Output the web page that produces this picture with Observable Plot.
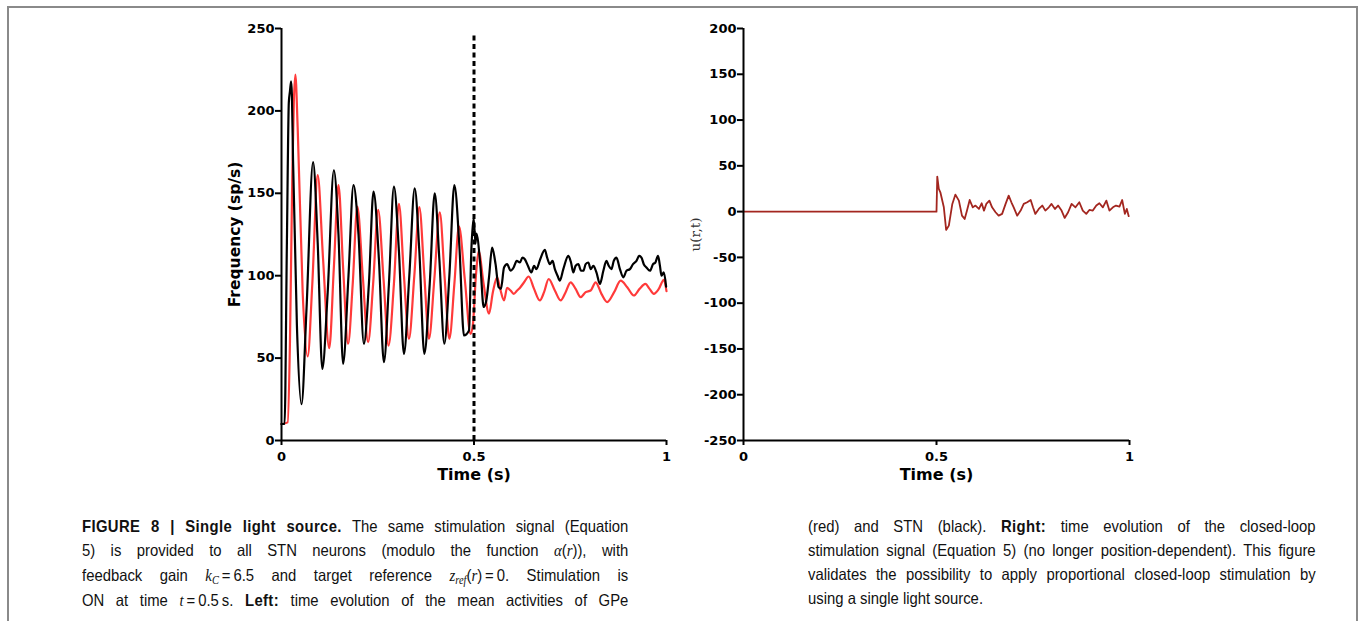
<!DOCTYPE html>
<html>
<head>
<meta charset="utf-8">
<script src="https://cdn.jsdelivr.net/npm/d3@7"></script>
<script src="https://cdn.jsdelivr.net/npm/@observablehq/plot@0.6"></script>
<style>
  html, body { margin: 0; padding: 0; background: #fff; width: 1360px; height: 621px; overflow: hidden; }
  #frame { position: absolute; left: 7px; top: 6px; width: 1347px; height: 700px; border: 2px solid #8a8a8a; border-bottom: none; }
  #left { position: absolute; left: 200px; top: 10px; }
  #right { position: absolute; left: 690px; top: 10px; }
  .cap { position: absolute; top: 514px; font-family: "Liberation Sans", "Arial", sans-serif; font-size: 16.5px; line-height: 24px; color: #111; transform: scaleX(0.9); transform-origin: 0 0; }
  .cap div { white-space: nowrap; text-align: justify; text-align-last: justify; }
  .cap div.last { text-align-last: left; }
  .cap b { font-weight: bold; letter-spacing: 0.4px; }
  .cap i { font-style: italic; font-family: "Liberation Serif", serif; }
  .cap sub { font-size: 70%; vertical-align: -3px; line-height: 0; }
</style>
</head>
<body>
<div id="frame"></div>
<div id="left"></div>
<div id="right"></div>
<div class="cap" style="left:82px; width:607px;">
  <div><b>FIGURE 8 | Single light source.</b> The same stimulation signal (Equation</div>
  <div>5) is provided to all STN neurons (modulo the function <i>α</i>(<i>r</i>)), with</div>
  <div>feedback gain <i>k<sub>C</sub></i>&thinsp;=&thinsp;6.5 and target reference <i>z<sub>ref</sub></i>(<i>r</i>)&thinsp;=&thinsp;0. Stimulation is</div>
  <div>ON at time <i>t</i>&thinsp;=&thinsp;0.5&thinsp;s. <b>Left:</b> time evolution of the mean activities of GPe</div>
</div>
<div class="cap" style="left:808px; width:564px;">
  <div>(red) and STN (black). <b>Right:</b> time evolution of the closed-loop</div>
  <div>stimulation signal (Equation 5) (no longer position-dependent). This figure</div>
  <div>validates the possibility to apply proportional closed-loop stimulation by</div>
  <div class="last">using a single light source.</div>
</div>
<script>
// ---- Data ----
const xTicks = [0, 0.5, 1];
const yTicksLeft = [0, 50, 100, 150, 200, 250];
const yTicksRight = [-250, -200, -150, -100, -50, 0, 50, 100, 150, 200];
const stimOnTime = 0.5;

// STN mean activity (black), time in s, frequency in sp/s
const stnT = [0, 0.008, 0.014, 0.019, 0.022, 0.025, 0.027, 0.03, 0.04, 0.052, 0.065, 0.082, 0.094, 0.106, 0.12, 0.136, 0.148, 0.160, 0.174, 0.187, 0.200, 0.214, 0.227, 0.239, 0.253, 0.266, 0.279, 0.292, 0.305, 0.318, 0.332, 0.346, 0.358, 0.371, 0.385, 0.398, 0.41, 0.423, 0.436, 0.449, 0.462, 0.474, 0.487, 0.493, 0.499, 0.504, 0.506, 0.517, 0.525, 0.532, 0.539, 0.547, 0.556, 0.564, 0.570, 0.578, 0.586, 0.595, 0.603, 0.611, 0.619, 0.626, 0.632, 0.640, 0.649, 0.656, 0.662, 0.672, 0.684, 0.690, 0.697, 0.704, 0.710, 0.717, 0.723, 0.732, 0.745, 0.752, 0.758, 0.764, 0.771, 0.778, 0.784, 0.790, 0.797, 0.803, 0.810, 0.818, 0.827, 0.836, 0.844, 0.850, 0.857, 0.863, 0.870, 0.879, 0.888, 0.896, 0.905, 0.913, 0.922, 0.929, 0.935, 0.941, 0.948, 0.957, 0.965, 0.971, 0.978, 0.983, 0.987, 0.993, 0.999];
const stnV = [10, 10, 120, 205, 212, 218, 210, 170, 70, 22, 80, 169, 120, 43.5, 90, 164, 125, 46.5, 100, 155, 125, 58.7, 95, 151, 110, 47.5, 95, 154, 115, 52.6, 100, 153, 115, 52.6, 95, 150, 110, 58.7, 100, 155, 118, 63.7, 66.7, 115, 135, 119.5, 125.6, 105, 81, 85, 99, 117, 107, 93, 92, 105, 107, 103, 105, 109, 108, 111, 110, 106, 102, 106, 104, 110, 115.7, 111, 107, 109, 104, 100, 97, 104, 112, 108, 102, 106, 107, 103, 103, 107, 108, 104, 106, 102, 95, 103, 109, 106, 104, 109, 111, 104, 99, 103, 104, 107, 109, 112, 111, 107, 105, 103, 107, 108, 112, 106, 100, 102, 93.4];

// GPe mean activity (red)
const gpeT = [0, 0.016, 0.022, 0.028, 0.032, 0.036, 0.042, 0.055, 0.068, 0.08, 0.094, 0.108, 0.124, 0.136, 0.148, 0.160, 0.173, 0.185, 0.197, 0.211, 0.225, 0.238, 0.251, 0.265, 0.278, 0.292, 0.305, 0.318, 0.331, 0.345, 0.358, 0.371, 0.383, 0.397, 0.411, 0.424, 0.436, 0.449, 0.461, 0.476, 0.491, 0.497, 0.505, 0.512, 0.525, 0.539, 0.549, 0.560, 0.568, 0.578, 0.586, 0.595, 0.603, 0.612, 0.619, 0.630, 0.642, 0.656, 0.671, 0.682, 0.694, 0.710, 0.725, 0.738, 0.751, 0.764, 0.777, 0.790, 0.803, 0.816, 0.831, 0.846, 0.864, 0.881, 0.898, 0.915, 0.930, 0.945, 0.956, 0.967, 0.980, 0.993, 1.0];
const gpeV = [10, 11, 60, 160, 205, 222, 190, 90, 51, 95, 161, 110, 56, 105, 155, 105, 58.7, 95, 142, 100, 59.7, 95, 140, 98, 57.6, 95, 143.6, 100, 61.7, 100, 141.6, 100, 61.7, 98, 138.5, 98, 61.7, 95, 130, 98, 64.7, 70, 100, 115, 95, 77, 90, 99, 92, 85, 92.6, 91, 89, 91, 92.6, 96, 99.5, 92, 85, 90, 98, 91, 85, 90, 96, 92, 87, 90, 91, 96, 89, 84, 90, 97, 93, 88, 92, 95, 92, 89, 92, 97.5, 90.6];

// Closed-loop stimulation signal u(r,t)
const uT = [0, 0.5, 0.502, 0.506, 0.510, 0.519, 0.525, 0.532, 0.541, 0.549, 0.558, 0.566, 0.573, 0.579, 0.586, 0.594, 0.601, 0.610, 0.617, 0.623, 0.629, 0.637, 0.644, 0.653, 0.661, 0.670, 0.679, 0.687, 0.694, 0.700, 0.709, 0.718, 0.726, 0.735, 0.744, 0.750, 0.756, 0.765, 0.774, 0.782, 0.791, 0.798, 0.807, 0.815, 0.824, 0.832, 0.841, 0.850, 0.860, 0.870, 0.879, 0.888, 0.896, 0.905, 0.914, 0.922, 0.931, 0.940, 0.948, 0.957, 0.965, 0.974, 0.981, 0.988, 0.993, 0.998];
const uV = [0, 0, 38.2, 24.8, 21.1, 4.7, -20, -15.3, 8.4, 18.6, 12, -4.4, -8, 1.1, 12.7, 4.7, 6.6, 2.9, 9.1, 1.1, 8.4, 12, 4.7, -0.7, -4.4, -2.5, 8.4, 17.5, 10.2, 4.7, -4.4, 1.1, 8.4, 10.2, 12.7, 4.7, -2.5, 2.9, 6.6, 1.1, 4.7, 8.4, 2.9, 6.6, 1.1, -6.9, -0.7, 8.4, 4.7, 10.2, 1.1, -2.5, 1.8, 1.1, 6.6, 9.1, 4.7, 12, 1.1, 4.7, 6.6, 5.5, 12.7, -2.5, 2.9, -5];

// ---- Build tables ----
const stn = stnT.map((t, i) => ({t, v: stnV[i]}));
const gpe = gpeT.map((t, i) => ({t, v: gpeV[i]}));
const u = uT.map((t, i) => ({t, v: uV[i]}));

const fmt = d => String(d);
const baseStyle = {fontFamily: "DejaVu Sans", fontWeight: "bold", fontSize: "13px", color: "black", background: "white", overflow: "visible"};

const leftPlot = Plot.plot({
  width: 480, height: 480,
  marginLeft: 81, marginRight: 14, marginTop: 18, marginBottom: 50,
  x: {domain: [0, 1]},
  y: {domain: [0, 250]},
  style: baseStyle,
  marks: [
    Plot.axisX({ticks: xTicks, tickFormat: fmt, tickSize: 5, tickPadding: 6.5, strokeWidth: 2, label: null}),
    Plot.axisY({ticks: yTicksLeft, tickFormat: fmt, tickSize: 6, tickPadding: 1, strokeWidth: 2, label: null}),
    Plot.line(gpe, {x: "t", y: "v", stroke: "#ff3a3a", strokeWidth: 2.2, curve: "monotone-x"}),
    Plot.line(stn, {x: "t", y: "v", stroke: "#000", strokeWidth: 2.2, curve: "monotone-x"}),
    Plot.ruleX([stimOnTime], {y1: 0, y2: 247, stroke: "#000", strokeWidth: 3, strokeDasharray: "5,3.5"}),
    Plot.ruleX([0], {stroke: "#000", strokeWidth: 2}),
    Plot.ruleY([0], {stroke: "#000", strokeWidth: 2}),
    Plot.text(["Frequency (sp/s)"], {frameAnchor: "left", textAnchor: "middle", lineAnchor: "middle", dx: -46, rotate: -90, fontSize: 15.5, fontWeight: "bold"}),
    Plot.text(["Time (s)"], {frameAnchor: "bottom", lineAnchor: "middle", dy: 34, fontSize: 16, fontWeight: "bold"})
  ]
});
document.getElementById("left").appendChild(leftPlot);

const rightPlot = Plot.plot({
  width: 460, height: 480,
  marginLeft: 53, marginRight: 21, marginTop: 18, marginBottom: 50,
  x: {domain: [0, 1]},
  y: {domain: [-250, 200]},
  style: baseStyle,
  marks: [
    Plot.axisX({ticks: xTicks, tickFormat: fmt, tickSize: 5, tickPadding: 6.5, strokeWidth: 2, label: null}),
    Plot.axisY({ticks: yTicksRight, tickFormat: fmt, tickSize: 6, tickPadding: 1, strokeWidth: 2, label: null}),
    Plot.line(u, {x: "t", y: "v", stroke: "#a3261f", strokeWidth: 1.8}),
    Plot.ruleX([0], {stroke: "#000", strokeWidth: 2}),
    Plot.ruleY([-250], {stroke: "#000", strokeWidth: 2}),
    Plot.text(["u(r,t)"], {frameAnchor: "left", textAnchor: "middle", lineAnchor: "middle", dx: -48, rotate: -90, fontSize: 13.5, fontWeight: "normal", fontFamily: "DejaVu Serif", fill: "#333"}),
    Plot.text(["Time (s)"], {frameAnchor: "bottom", lineAnchor: "middle", dy: 34, fontSize: 16, fontWeight: "bold"})
  ]
});
document.getElementById("right").appendChild(rightPlot);
</script>
</body>
</html>
